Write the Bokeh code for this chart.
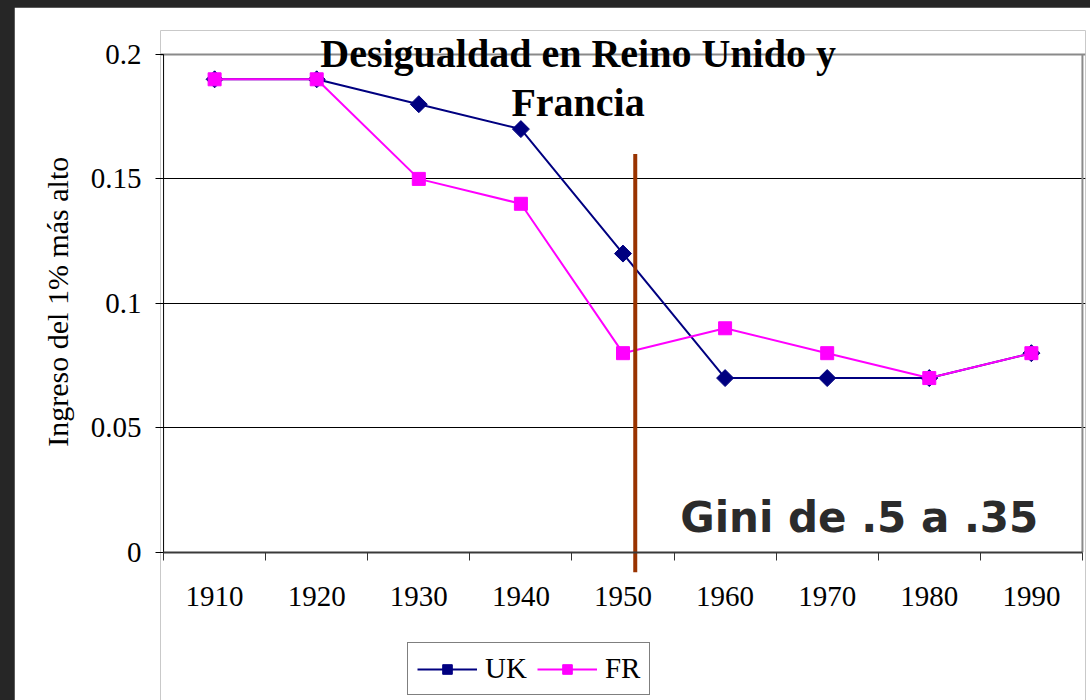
import math
from bokeh.plotting import figure
from bokeh.models import (FixedTicker, Label, Legend, LegendItem, Spacer,
                          LinearAxis, Grid)
from bokeh.layouts import row, column
from bokeh.embed import file_html
from bokeh.resources import INLINE

# ---- data ----
years = [1910, 1920, 1930, 1940, 1950, 1960, 1970, 1980, 1990]
uk = [0.19, 0.19, 0.18, 0.17, 0.12, 0.07, 0.07, 0.07, 0.08]
fr = [0.19, 0.19, 0.15, 0.14, 0.08, 0.09, 0.08, 0.07, 0.08]
y_ticks = [0.0, 0.05, 0.1, 0.15, 0.2]
y_tick_labels = ["0", "0.05", "0.1", "0.15", "0.2"]
divider_year = [1951.2]
divider_bottom = [-0.008]
divider_top = [0.16]
title_lines = ["Desigualdad en Reino Unido y", "Francia"]
note_text = "Gini de .5 a .35"
y_label = "Ingreso del 1% más alto"

SERIF = "Liberation Serif"
GRAY = "#8a8a8a"
half = 5
x_bounds = [y - half for y in years] + [years[-1] + half]
y_min, y_max = float(y_ticks[0]), float(y_ticks[-1])
pad_x = 0.3

# frame extended above (title) and below (legend) the data area
p = figure(frame_width=925, frame_height=670,
           x_range=(x_bounds[0] - pad_x, x_bounds[-1] + pad_x),
           y_range=(-0.0595, 0.2096),
           output_backend="svg", toolbar_location=None,
           y_axis_location=None,
           min_border_left=146, min_border_right=5,
           min_border_top=23, min_border_bottom=0,
           background_fill_color="white", border_fill_color="white",
           outline_line_color=None)

# remove default grids
for g in list(p.grid):
    g.visible = False

# y axis (left); its line is drawn as the plot-area border below.
# leading no-break spaces shift the centred label up onto the data area
ya = LinearAxis(ticker=FixedTicker(ticks=y_ticks),
                major_label_overrides={t: l for t, l in zip(y_ticks, y_tick_labels)},
                minor_tick_line_color=None, major_tick_out=5, major_tick_in=3,
                major_tick_line_color="black", axis_line_color=None,
                major_label_text_font=SERIF, major_label_text_font_size="29px",
                major_label_text_color="black", major_label_standoff=14,
                axis_label="\u00a0" * 17 + y_label, axis_label_text_font=SERIF,
                axis_label_text_font_size="30px",
                axis_label_text_font_style="normal",
                axis_label_text_color="black", axis_label_standoff=14)
p.add_layout(ya, "left")

# grid
ygrid = Grid(dimension=1, ticker=FixedTicker(ticks=y_ticks[1:-1]),
             grid_line_color="black", grid_line_width=1)
p.add_layout(ygrid)
top_grid = Grid(dimension=1, ticker=FixedTicker(ticks=[y_max]),
                grid_line_color=GRAY, grid_line_width=2)
p.add_layout(top_grid)

# x axis at y = 0
xa = p.xaxis[0]
xa.fixed_location = y_min
xa.bounds = (x_bounds[0], x_bounds[-1])
xa.ticker = FixedTicker(ticks=years, minor_ticks=x_bounds)
xa.major_tick_out = 0
xa.major_tick_in = 0
xa.minor_tick_out = 8
xa.minor_tick_in = 0
xa.minor_tick_line_color = "#333333"
xa.axis_line_color = "#3a3a3a"
xa.axis_line_width = 2
xa.major_label_text_font = SERIF
xa.major_label_text_font_size = "29px"
xa.major_label_text_color = "black"
xa.major_label_standoff = 27

# plot-area borders: left (black) and right (gray)
p.segment(x0=[x_bounds[0]], y0=[y_min], x1=[x_bounds[0]], y1=[y_max],
          line_color="black", line_width=1)
p.segment(x0=[x_bounds[-1]], y0=[y_min], x1=[x_bounds[-1]], y1=[y_max],
          line_color=GRAY, line_width=2)

# series
uk_line = p.line(years, uk, line_color="#000080", line_width=2)
uk_pts = p.scatter(years, uk, marker="square", angle=math.pi / 4, size=12,
                   fill_color="#000080", line_color="#000080")
fr_line = p.line(years, fr, line_color="#ff00ff", line_width=2)
fr_pts = p.scatter(years, fr, marker="square", size=13, fill_color="#ff00ff",
                   line_color="#ff00ff")

# divider line
p.segment(x0=divider_year, y0=divider_bottom, x1=divider_year, y1=divider_top,
          line_color="#993300", line_width=4)

# title inside plot
p.add_layout(Label(x=1945.6, y=0.2004, text=title_lines[0], text_align="center",
                   text_baseline="alphabetic", text_font=SERIF,
                   text_font_style="bold", text_font_size="40px",
                   text_color="black"))
p.add_layout(Label(x=1945.6, y=0.1807, text=title_lines[1], text_align="center",
                   text_baseline="alphabetic", text_font=SERIF,
                   text_font_style="bold", text_font_size="40px",
                   text_color="black"))

# Gini note
p.add_layout(Label(x=1955.6, y=0.0142, text=note_text, text_align="left",
                   text_baseline="alphabetic", text_font="DejaVu Sans",
                   text_font_style="bold", text_font_size="42px",
                   text_color="#2b2b2b"))

legend = Legend(items=[LegendItem(label="UK", renderers=[uk_line, uk_pts]),
                       LegendItem(label="FR", renderers=[fr_line, fr_pts])],
                orientation="horizontal", location=(247, 5), margin=0,
                padding=9, spacing=10, glyph_width=60, glyph_height=24,
                label_standoff=8, label_text_font=SERIF,
                label_text_font_size="29px", label_text_color="black",
                border_line_color="black", border_line_width=1,
                background_fill_color="white", background_fill_alpha=1)
p.add_layout(legend, "center")

layout = column(Spacer(width=10, height=7),
                row(Spacer(width=14, height=10), p, spacing=0),
                spacing=0)

html = file_html(layout, INLINE)
html = html.replace("</head>",
                    "<style>html, body { background: #262626 !important; }</style></head>", 1)
open("out.html", "w").write(html)
